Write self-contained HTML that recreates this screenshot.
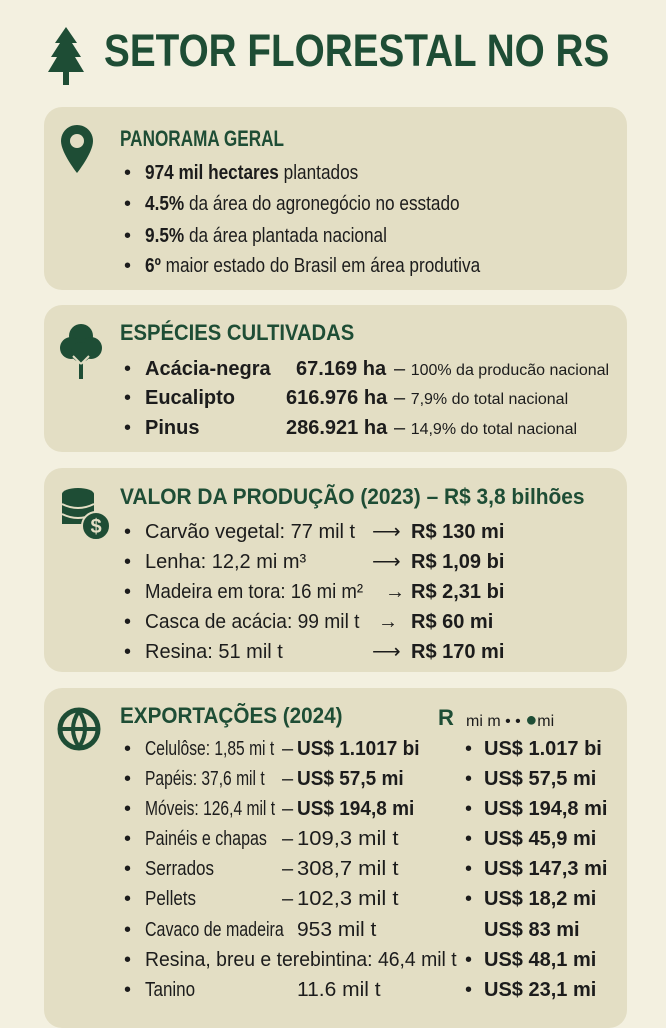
<!DOCTYPE html>
<html><head><meta charset="utf-8"><style>
body{margin:0;width:666px;height:1000px;background:#f3f0e0;position:relative;overflow:hidden;font-family:"Liberation Sans",sans-serif;color:#1c1c1c}
.p{position:absolute;left:44px;width:583px;background:#e3dec4;border-radius:18px}
.t{position:absolute;white-space:nowrap;font-size:20px;line-height:24px;transform-origin:0 50%}
.h{color:#1e4d35;font-weight:bold;font-size:22px}
.b{font-weight:bold}
.s{font-size:16px}
.g{color:#1e4d35}
.bu{position:absolute;font-size:20px;line-height:24px;left:124px}
</style></head><body>
<svg style="position:absolute;left:46px;top:27px" width="40" height="60" viewBox="0 0 40 60"><path d="M20 0 L31 16 L26 16 L35 30 L29 30 L38 45 L23 45 L23 58 L17 58 L17 45 L2 45 L11 30 L5 30 L14 16 L9 16Z" fill="#1e4d35"/></svg>
<div class="t" style="left:104px;top:28px;font-size:45px;line-height:46px;font-weight:bold;color:#1e4d35;transform:scaleX(.86)">SETOR FLORESTAL NO RS</div>

<div class="p" style="top:107px;height:183px"></div>
<svg style="position:absolute;left:61px;top:125px" width="32" height="48" viewBox="0 0 32 48"><path d="M16 0C7 0 0 7 0 16C0 28 16 48 16 48S32 28 32 16C32 7 25 0 16 0Z" fill="#1e4d35"/><circle cx="16" cy="16" r="7" fill="#e3dec4"/></svg>
<div class="t h" style="left:120px;top:127px;transform:scaleX(.78)">PANORAMA GERAL</div>
<div class="bu" style="top:161px">•</div><div class="t" style="left:145px;top:161px;transform:scaleX(.86)"><span class="b">974 mil hectares</span> plantados</div>
<div class="bu" style="top:192px">•</div><div class="t" style="left:145px;top:192px;transform:scaleX(.86)"><span class="b">4.5%</span> da área do agronegócio no esstado</div>
<div class="bu" style="top:224px">•</div><div class="t" style="left:145px;top:224px;transform:scaleX(.86)"><span class="b">9.5%</span> da área plantada nacional</div>
<div class="bu" style="top:254px">•</div><div class="t" style="left:145px;top:254px;transform:scaleX(.86)"><span class="b">6º</span> maior estado do Brasil em área produtiva</div>

<div class="p" style="top:305px;height:147px"></div>
<svg style="position:absolute;left:60px;top:322px" width="42" height="58" viewBox="0 0 42 58"><circle cx="21" cy="14" r="12" fill="#1e4d35"/><circle cx="11" cy="26" r="11" fill="#1e4d35"/><circle cx="31" cy="26" r="11" fill="#1e4d35"/><circle cx="21" cy="30" r="10" fill="#1e4d35"/><rect x="19" y="30" width="4" height="27" fill="#1e4d35"/><path d="M21 42 L13 34 M21 42 L29 34" stroke="#e3dec4" stroke-width="2"/></svg>
<div class="t h" style="left:120px;top:321px;transform:scaleX(.92)">ESPÉCIES CULTIVADAS</div>
<div class="bu" style="top:357px">•</div><div class="t b" style="left:145px;top:357px">Acácia-negra</div><div class="t b" style="left:296px;top:357px">67.169 ha</div><div class="t" style="left:394px;top:357px">– <span class="s">100% da producão nacional</span></div>
<div class="bu" style="top:386px">•</div><div class="t b" style="left:145px;top:386px">Eucalipto</div><div class="t b" style="left:286px;top:386px">616.976 ha</div><div class="t" style="left:394px;top:386px">– <span class="s">7,9% do total nacional</span></div>
<div class="bu" style="top:416px">•</div><div class="t b" style="left:145px;top:416px">Pinus</div><div class="t b" style="left:286px;top:416px">286.921 ha</div><div class="t" style="left:394px;top:416px">– <span class="s">14,9% do total nacional</span></div>

<div class="p" style="top:468px;height:204px"></div>
<svg style="position:absolute;left:60px;top:486px" width="52" height="56" viewBox="0 0 52 56"><ellipse cx="18" cy="8" rx="16" ry="6" fill="#1e4d35"/><rect x="2" y="8" width="32" height="30" fill="#1e4d35"/><path d="M2 18 Q18 26 34 18 M2 28 Q18 36 34 28" stroke="#e3dec4" stroke-width="2" fill="none"/><circle cx="36" cy="40" r="14" fill="#1e4d35" stroke="#e3dec4" stroke-width="2"/><text x="36" y="47" font-size="20" font-weight="bold" fill="#e3dec4" text-anchor="middle" font-family="Liberation Sans">$</text></svg>
<div class="t h" style="left:120px;top:485px;transform:scaleX(.95)">VALOR DA PRODUÇÃO (2023) – R$ 3,8 bilhões</div>
<div class="bu" style="top:520px">•</div><div class="t" style="left:145px;top:520px">Carvão vegetal: 77 mil t</div><div class="t" style="left:372px;top:520px">⟶</div><div class="t b" style="left:411px;top:520px">R$ 130 mi</div>
<div class="bu" style="top:550px">•</div><div class="t" style="left:145px;top:550px">Lenha: 12,2 mi m³</div><div class="t" style="left:372px;top:550px">⟶</div><div class="t b" style="left:411px;top:550px">R$ 1,09 bi</div>
<div class="bu" style="top:580px">•</div><div class="t" style="left:145px;top:580px;transform:scaleX(.93)">Madeira em tora: 16 mi m²</div><div class="t" style="left:385px;top:580px">→</div><div class="t b" style="left:411px;top:580px">R$ 2,31 bi</div>
<div class="bu" style="top:610px">•</div><div class="t" style="left:145px;top:610px;transform:scaleX(.96)">Casca de acácia: 99 mil t</div><div class="t" style="left:378px;top:610px">→</div><div class="t b" style="left:411px;top:610px">R$ 60 mi</div>
<div class="bu" style="top:640px">•</div><div class="t" style="left:145px;top:640px">Resina: 51 mil t</div><div class="t" style="left:372px;top:640px">⟶</div><div class="t b" style="left:411px;top:640px">R$ 170 mi</div>

<div class="p" style="top:688px;height:340px"></div>
<svg style="position:absolute;left:57px;top:707px" width="44" height="44" viewBox="0 0 44 44"><circle cx="22" cy="22" r="19" fill="none" stroke="#1e4d35" stroke-width="5"/><path d="M5 22 H39 M22 4 Q10 22 22 40 M22 4 Q34 22 22 40" stroke="#1e4d35" stroke-width="4" fill="none"/></svg>
<div class="t h" style="left:120px;top:704px;transform:scaleX(.94)">EXPORTAÇÕES (2024)</div>
<div class="t h" style="left:438px;top:706px">R</div><div class="t s" style="left:466px;top:708px">mi m • • <b class="g" style="font-size:20px">●</b>mi</div>

<div class="bu" style="top:737px">•</div><div class="t" style="left:145px;top:737px;transform:scaleX(.78)">Celulôse: 1,85 mi t</div><div class="t" style="left:282px;top:737px">–</div><div class="t b" style="left:297px;top:737px;transform:scaleX(.95)">US$ 1.1017 bi</div>
<div class="bu" style="top:767px">•</div><div class="t" style="left:145px;top:767px;transform:scaleX(.78)">Papéis: 37,6 mil t</div><div class="t" style="left:282px;top:767px">–</div><div class="t b" style="left:297px;top:767px;transform:scaleX(.95)">US$ 57,5 mi</div>
<div class="bu" style="top:797px">•</div><div class="t" style="left:145px;top:797px;transform:scaleX(.78)">Móveis: 126,4 mil t</div><div class="t" style="left:282px;top:797px">–</div><div class="t b" style="left:297px;top:797px;transform:scaleX(.95)">US$ 194,8 mi</div>
<div class="bu" style="top:827px">•</div><div class="t" style="left:145px;top:827px;transform:scaleX(.8)">Painéis e chapas</div><div class="t" style="left:282px;top:827px">–</div><div class="t" style="left:297px;top:827px;transform:scaleX(1.1)">109,3 mil t</div>
<div class="bu" style="top:857px">•</div><div class="t" style="left:145px;top:857px;transform:scaleX(.85)">Serrados</div><div class="t" style="left:282px;top:857px">–</div><div class="t" style="left:297px;top:857px;transform:scaleX(1.1)">308,7 mil t</div>
<div class="bu" style="top:887px">•</div><div class="t" style="left:145px;top:887px;transform:scaleX(.85)">Pellets</div><div class="t" style="left:282px;top:887px">–</div><div class="t" style="left:297px;top:887px;transform:scaleX(1.1)">102,3 mil t</div>
<div class="bu" style="top:918px">•</div><div class="t" style="left:145px;top:918px;transform:scaleX(.8)">Cavaco de madeira</div><div class="t" style="left:297px;top:918px;transform:scaleX(1.05)">953 mil t</div>
<div class="bu" style="top:948px">•</div><div class="t" style="left:145px;top:948px;transform:scaleX(.97)">Resina, breu e terebintina: 46,4 mil t</div>
<div class="bu" style="top:978px">•</div><div class="t" style="left:145px;top:978px;transform:scaleX(.85)">Tanino</div><div class="t" style="left:297px;top:978px;transform:scaleX(1.05)">11.6 mil t</div>

<div class="t" style="left:465px;top:737px">•</div><div class="t b" style="left:484px;top:737px">US$ 1.017 bi</div>
<div class="t" style="left:465px;top:767px">•</div><div class="t b" style="left:484px;top:767px">US$ 57,5 mi</div>
<div class="t" style="left:465px;top:797px">•</div><div class="t b" style="left:484px;top:797px">US$ 194,8 mi</div>
<div class="t" style="left:465px;top:827px">•</div><div class="t b" style="left:484px;top:827px">US$ 45,9 mi</div>
<div class="t" style="left:465px;top:857px">•</div><div class="t b" style="left:484px;top:857px">US$ 147,3 mi</div>
<div class="t" style="left:465px;top:887px">•</div><div class="t b" style="left:484px;top:887px">US$ 18,2 mi</div>
<div class="t b" style="left:484px;top:918px">US$ 83 mi</div>
<div class="t" style="left:465px;top:948px">•</div><div class="t b" style="left:484px;top:948px">US$ 48,1 mi</div>
<div class="t" style="left:465px;top:978px">•</div><div class="t b" style="left:484px;top:978px">US$ 23,1 mi</div>
</body></html>
